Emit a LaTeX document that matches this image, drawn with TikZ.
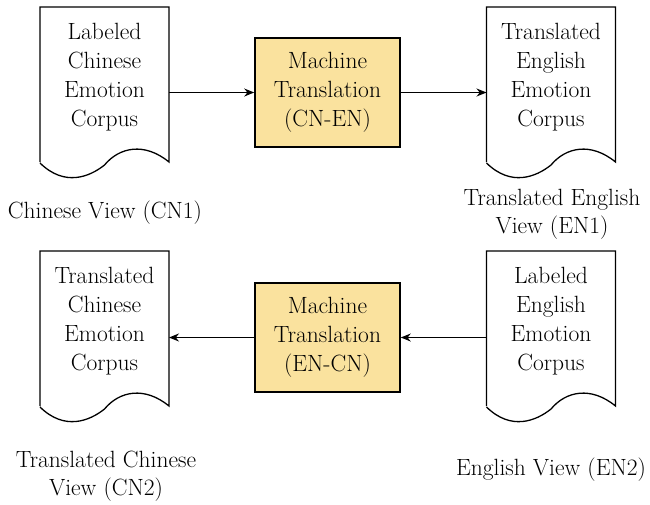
\documentclass[tikz,border=0pt]{standalone}
\usetikzlibrary{arrows.meta}

\definecolor{mtfill}{HTML}{FAE29E}

\tikzset{
  doctext/.style={align=center, font=\fontsize{23.5}{29}\selectfont},
  mtbox/.style={draw, line width=1.6pt, fill=mtfill, align=center,
    minimum width=145pt, minimum height=109pt, font=\fontsize{23.5}{29}\selectfont},
  viewlabel/.style={align=center, font=\fontsize{23.5}{28}\selectfont},
  flow/.style={line width=1.1pt, -{Stealth[length=10pt,width=8pt]}}
}

% outline of a document round a text node
\newcommand{\docoutline}[1]{%
  \draw[line width=1.3pt]
    ([shift={(-64.5,85)}]#1.center) -- ([shift={(-64.5,-70)}]#1.center)
    -- ([shift={(64.5,-70)}]#1.center) -- ([shift={(64.5,85)}]#1.center)
    .. controls ([shift={(40,65)}]#1.center) and ([shift={(15,70)}]#1.center) .. ([shift={(0,88)}]#1.center)
    .. controls ([shift={(-15,100)}]#1.center) and ([shift={(-40,110)}]#1.center) .. ([shift={(-64.5,86)}]#1.center);}

\begin{document}
\begin{tikzpicture}[x=1pt,y=-1pt]
	\useasboundingbox (0,0) rectangle (650,504);

	\node[doctext] (CNdoc) at (104.5,77) {Labeled\\Chinese\\Emotion\\Corpus};
	\node[mtbox] (MT1) at (327.5,92.5) {Machine\\Translation\\(CN-EN)};
	\node[doctext] (ENtrans) at (551,77) {Translated\\English\\Emotion\\Corpus};

	\node[doctext] (CNtrans) at (104.5,321) {Translated\\Chinese\\Emotion\\Corpus};
	\node[mtbox] (MT2) at (327.5,337.5) {Machine\\Translation\\(EN-CN)};
	\node[doctext] (ENdoc) at (551,321) {Labeled\\English\\Emotion\\Corpus};

	\docoutline{CNdoc}
	\docoutline{ENtrans}
	\docoutline{CNtrans}
	\docoutline{ENdoc}

	\node[viewlabel] (CN1) at (105,213) {Chinese View (CN1)};
	\node[viewlabel] (EN1) at (552,214) {Translated English\\View (EN1)};
	\node[viewlabel] (CN2) at (106,476) {Translated Chinese\\View (CN2)};
	\node[viewlabel] (EN2) at (551,470) {English View (EN2)};

	\draw[flow] ([xshift=64.5pt]CNdoc.center |- MT1.west) -- (MT1.west);
	\draw[flow] (MT1.east) -- ([xshift=-64.5pt]ENtrans.center |- MT1.east);
	\draw[flow] ([xshift=-64.5pt]ENdoc.center |- MT2.east) -- (MT2.east);
	\draw[flow] (MT2.west) -- ([xshift=64.5pt]CNtrans.center |- MT2.west);
\end{tikzpicture}
\end{document}
